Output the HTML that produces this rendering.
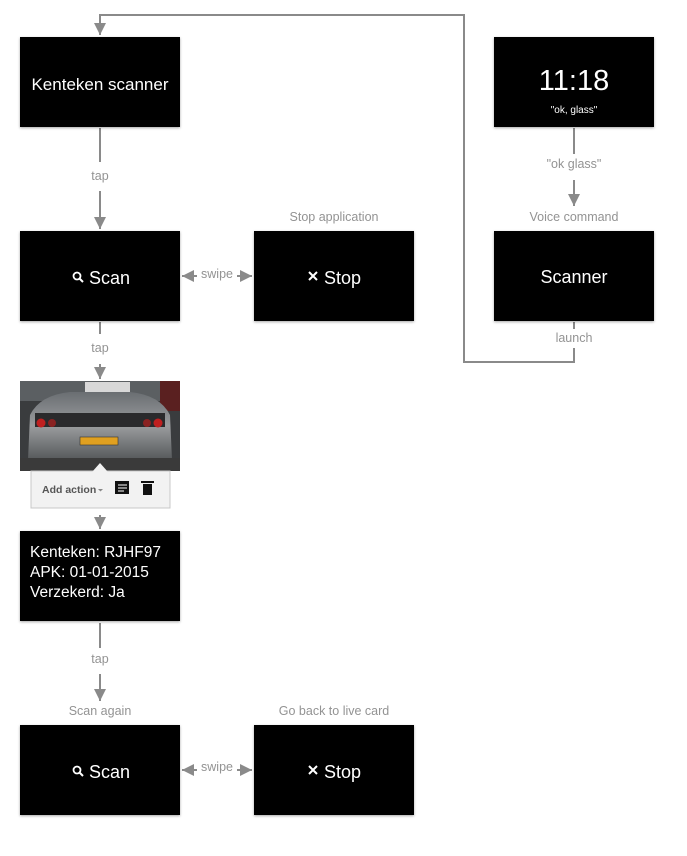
<!DOCTYPE html>
<html><head><meta charset="utf-8"><style>
body{margin:0;background:#fff;width:687px;height:856px;overflow:hidden;font-family:"Liberation Sans",sans-serif}
svg{display:block}
.lbl{fill:#939393;font-size:12.5px;text-anchor:middle}
.card{fill:#000;filter:url(#sh)}
.w{fill:#fff;text-anchor:middle;font-weight:300}
</style></head><body>
<svg width="687" height="856" viewBox="0 0 687 856">
<defs>
<filter id="sh" x="-10%" y="-10%" width="120%" height="130%"><feDropShadow dx="0" dy="1" stdDeviation="1.2" flood-color="#000" flood-opacity="0.35"/></filter>
<marker id="ah" viewBox="0 0 10 10" refX="10" refY="5" markerWidth="6" markerHeight="6" orient="auto"><path d="M0,0L10,5L0,10z" fill="#8a8a8a"/></marker>
<linearGradient id="car" x1="0" y1="0" x2="0" y2="1"><stop offset="0" stop-color="#6a6e72"/><stop offset="0.5" stop-color="#9a9c9e"/><stop offset="1" stop-color="#55585a"/></linearGradient>
</defs>
<g stroke="#8a8a8a" stroke-width="2" fill="none">
<path d="M574,322V329"/>
<path d="M574,348V362H464V15H100V35" marker-end="url(#ah)"/>
<path d="M100,128V162"/><path d="M100,191V229" marker-end="url(#ah)"/>
<path d="M100,322V334"/><path d="M100,364V379" marker-end="url(#ah)"/>
<path d="M100,515V529" marker-end="url(#ah)"/>
<path d="M100,623V648"/><path d="M100,674V701" marker-end="url(#ah)"/>
<path d="M574,128V154"/><path d="M574,180V206" marker-end="url(#ah)"/>
<path d="M197,276H182" marker-end="url(#ah)"/><path d="M237,276H252" marker-end="url(#ah)"/>
<path d="M197,770H182" marker-end="url(#ah)"/><path d="M237,770H252" marker-end="url(#ah)"/>
</g>
<text class="lbl" x="100" y="180">tap</text>
<text class="lbl" x="100" y="352">tap</text>
<text class="lbl" x="100" y="663">tap</text>
<text class="lbl" x="217" y="278">swipe</text>
<text class="lbl" x="217" y="771">swipe</text>
<text class="lbl" x="334" y="221">Stop application</text>
<text class="lbl" x="574" y="168">"ok glass"</text>
<text class="lbl" x="574" y="221">Voice command</text>
<text class="lbl" x="574" y="342">launch</text>
<text class="lbl" x="100" y="715">Scan again</text>
<text class="lbl" x="334" y="715">Go back to live card</text>

<rect class="card" x="20" y="37" width="160" height="90"/>
<text class="w" x="100" y="90" font-size="17">Kenteken scanner</text>
<rect class="card" x="20" y="231" width="160" height="90"/>
<rect class="card" x="254" y="231" width="160" height="90"/>
<rect class="card" x="494" y="37" width="160" height="90"/>
<text class="w" x="574" y="90" font-size="29">11:18</text>
<text class="w" x="574" y="113" font-size="10" style="font-weight:400">"ok, glass"</text>
<rect class="card" x="494" y="231" width="160" height="90"/>
<text class="w" x="574" y="283" font-size="18">Scanner</text>
<rect class="card" x="20" y="531" width="160" height="90"/>
<text x="30" y="557" font-size="15.5" fill="#fff" font-weight="300">Kenteken: RJHF97</text>
<text x="30" y="577" font-size="15.5" fill="#fff" font-weight="300">APK: 01-01-2015</text>
<text x="30" y="597" font-size="15.5" fill="#fff" font-weight="300">Verzekerd: Ja</text>
<rect class="card" x="20" y="725" width="160" height="90"/>
<rect class="card" x="254" y="725" width="160" height="90"/>

<g id="scanic"><circle cx="77" cy="276" r="3.5" stroke="#fff" stroke-width="1.8" fill="none"/><path d="M79.5,278.5L83,282" stroke="#fff" stroke-width="2"/></g>
<text x="89" y="284" font-size="18" fill="#fff" font-weight="300">Scan</text>
<path d="M309,272l8,8M317,272l-8,8" stroke="#fff" stroke-width="2"/>
<text x="324" y="284" font-size="18" fill="#fff" font-weight="300">Stop</text>
<use href="#scanic" transform="translate(0,494)"/>
<text x="89" y="778" font-size="18" fill="#fff" font-weight="300">Scan</text>
<path d="M309,766l8,8M317,766l-8,8" stroke="#fff" stroke-width="2"/>
<text x="324" y="778" font-size="18" fill="#fff" font-weight="300">Stop</text>

<!-- photo -->
<rect x="20" y="381" width="160" height="90" fill="#3a3c3e"/>
<rect x="20" y="381" width="160" height="20" fill="#5b5f62"/>
<rect x="85" y="382" width="45" height="14" fill="#d8d8d8"/>
<rect x="160" y="381" width="20" height="30" fill="#5a2020"/>
<path d="M30,415Q40,395 70,392L130,392Q160,395 170,415L172,460L28,460z" fill="url(#car)"/>
<rect x="35" y="413" width="130" height="14" fill="#2a2a2c"/>
<circle cx="41" cy="423" r="4.5" fill="#c02020"/><circle cx="52" cy="423" r="4" fill="#8a2222"/>
<circle cx="147" cy="423" r="4" fill="#8a2222"/><circle cx="158" cy="423" r="4.5" fill="#c02020"/>
<rect x="80" y="437" width="38" height="8" fill="#e0a020" stroke="#333" stroke-width="0.6"/>
<rect x="20" y="458" width="160" height="13" fill="#3a3a3a"/>
<!-- popup -->
<rect x="31" y="471" width="139" height="37" fill="#f2f2f2" stroke="#c8c8c8"/>
<path d="M92,472L100,463L108,472z" fill="#f2f2f2"/>
<text x="42" y="493" font-size="10.5" font-weight="bold" fill="#555">Add action</text>
<path d="M98,489l2.5,2.5l2.5,-2.5z" fill="#888"/>
<rect x="115" y="481" width="14" height="13" fill="#111"/>
<path d="M118,485h9M118,488h9M118,491h6" stroke="#fff" stroke-width="1"/>
<rect x="141" y="481" width="13" height="2" fill="#111"/>
<rect x="143" y="484" width="9" height="11" fill="#111"/>
</svg>
</body></html>
